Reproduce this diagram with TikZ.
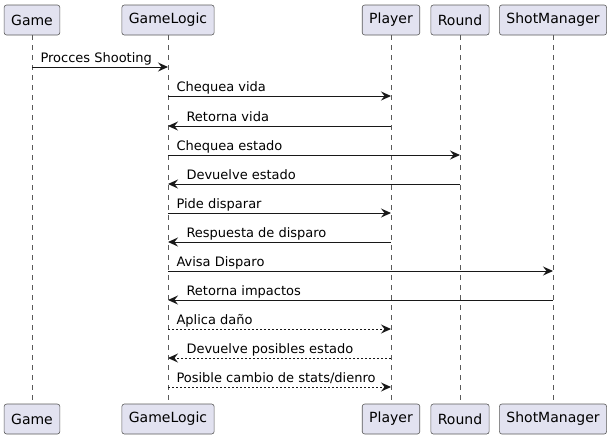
\documentclass[tikz,border=0pt]{standalone}
\usepackage{fontspec}
\setmainfont{DejaVu Sans}
\usepackage{tikz}
\usetikzlibrary{arrows.meta}
\usepackage{xcolor}
\definecolor{partfill}{HTML}{E2E2F0}
\definecolor{partline}{HTML}{5A5A5A}
\definecolor{msgline}{HTML}{181818}

\begin{document}
\begin{tikzpicture}[x=1pt,y=-1pt,
    part/.style={draw=partline,fill=partfill,rounded corners=2.5pt,line width=0.6pt,minimum height=30pt,inner xsep=7pt,font=\fontsize{14}{16}\selectfont},
    life/.style={draw=partline,dash pattern=on 5pt off 5pt,line width=0.5pt},
    msg/.style={draw=msgline,line width=1pt,-{Stealth[length=10pt,width=9pt,inset=3.5pt]}},
    ret/.style={msg,dash pattern=on 2pt off 2pt},
    lbl/.style={font=\fontsize{13}{15}\selectfont,inner sep=0pt,anchor=base west,yshift=5pt}]
        \useasboundingbox (0,0) rectangle (612,440);

        \node[part] (gameT) at (32,20) {Game};
        \node[part] (logicT) at (168,20) {GameLogic};
        \node[part] (playerT) at (391,20) {Player};
        \node[part] (roundT) at (460,20) {Round};
        \node[part] (shotT) at (553,20) {ShotManager};

        \node[part] (gameB) at (32,419) {Game};
        \node[part] (logicB) at (168,419) {GameLogic};
        \node[part] (playerB) at (391,419) {Player};
        \node[part] (roundB) at (460,419) {Round};
        \node[part] (shotB) at (553,419) {ShotManager};

        \draw[life] (gameT) -- (gameB);
        \draw[life] (logicT) -- (logicB);
        \draw[life] (playerT) -- (playerB);
        \draw[life] (roundT) -- (roundB);
        \draw[life] (shotT) -- (shotB);

        \draw[msg] (gameT |- 0,67) -- (logicT |- 0,67) node[lbl,at start,xshift=8pt] {Procces Shooting};

        \draw[msg] (logicT |- 0,96) -- (playerT |- 0,96) node[lbl,at start,xshift=8pt] {Chequea vida};
        \draw[msg] (playerT |- 0,126) -- (logicT |- 0,126) node[lbl,at end,xshift=18pt] {Retorna vida};

        \draw[msg] (logicT |- 0,155) -- (roundT |- 0,155) node[lbl,at start,xshift=8pt] {Chequea estado};
        \draw[msg] (roundT |- 0,184) -- (logicT |- 0,184) node[lbl,at end,xshift=18pt] {Devuelve estado};

        \draw[msg] (logicT |- 0,213) -- (playerT |- 0,213) node[lbl,at start,xshift=8pt] {Pide disparar};
        \draw[msg] (playerT |- 0,242) -- (logicT |- 0,242) node[lbl,at end,xshift=18pt] {Respuesta de disparo};

        \draw[msg] (logicT |- 0,271) -- (shotT |- 0,271) node[lbl,at start,xshift=8pt] {Avisa Disparo};
        \draw[msg] (shotT |- 0,300) -- (logicT |- 0,300) node[lbl,at end,xshift=18pt] {Retorna impactos};

        \draw[ret] (logicT |- 0,329) -- (playerT |- 0,329) node[lbl,at start,xshift=8pt] {Aplica daño};
        \draw[ret] (playerT |- 0,358) -- (logicT |- 0,358) node[lbl,at end,xshift=18pt] {Devuelve posibles estado};
        \draw[ret] (logicT |- 0,387) -- (playerT |- 0,387) node[lbl,at start,xshift=8pt] {Posible cambio de stats/dienro};
    \end{tikzpicture}
\end{document}
